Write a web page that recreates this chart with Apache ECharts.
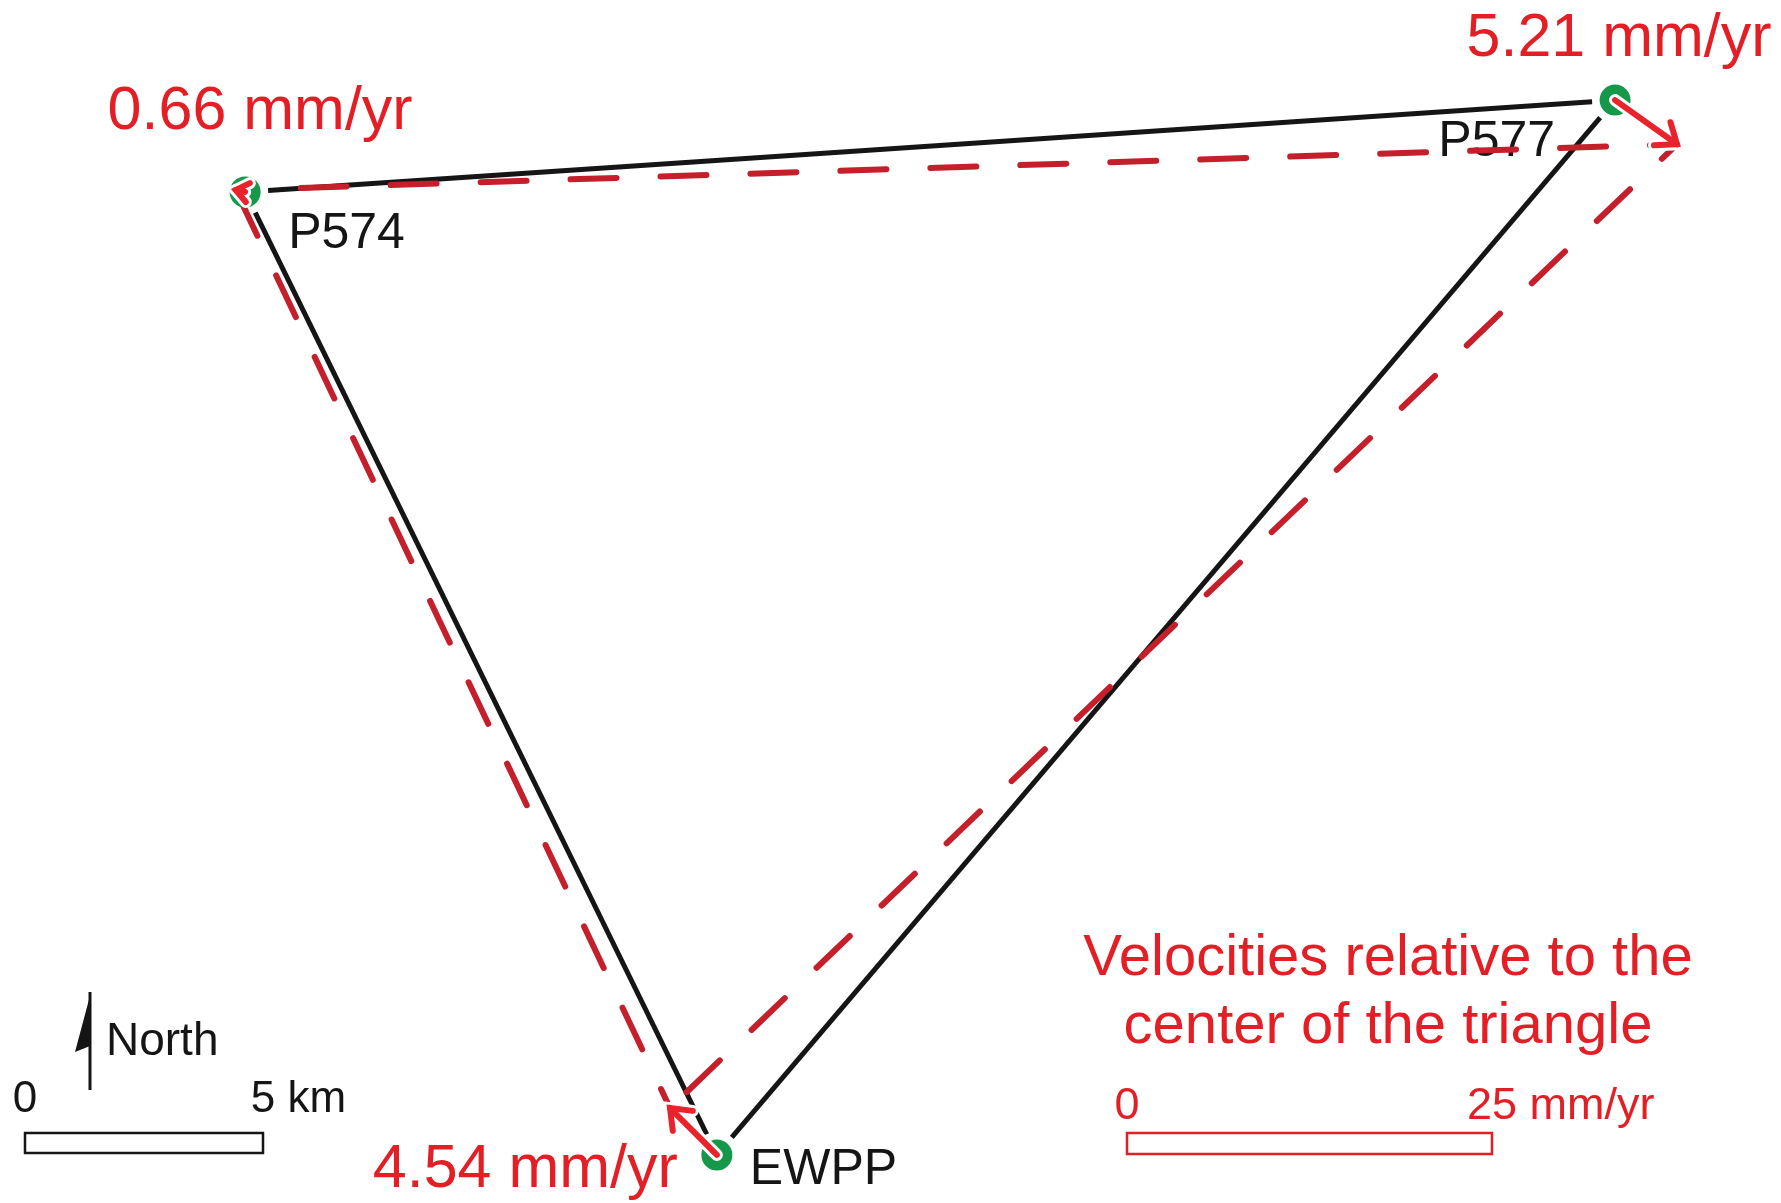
<!DOCTYPE html>
<html><head><meta charset="utf-8">
<script src="https://cdn.jsdelivr.net/npm/echarts@6/dist/echarts.min.js"></script>
<style>html,body{margin:0;padding:0;background:#fff}#c{width:1781px;height:1203px}</style>
</head><body><div id="c"></div>
<script>
// ---------------- data ----------------
const stationNames   = ['P574', 'P577', 'EWPP'];
const stationEastKm  = [5.15, 33.93, 15.06];
const stationNorthKm = [21.24, 23.17, 1.01];
const speedMmYr      = [0.66, 5.21, 4.54];
const azimuthDeg     = [282, 125.5, 315];
const speedLabels    = ['0.66 mm/yr', '5.21 mm/yr', '4.54 mm/yr'];
const distanceScaleKm = 5;
const distanceScaleUnit = 'km';
const velocityScaleMmYr = 25;
const velocityScaleUnit = 'mm/yr';
const noteLines = ['Velocities relative to the', 'center of the triangle'];
const northLabel = 'North';

// ---------------- layout / style ----------------
const PX_PER_KM = 47.6;
const KM_PER_MMYR = 14.6 / PX_PER_KM;      // vector exaggeration on the map
const MAP_W = 1781 / PX_PER_KM, MAP_H = 1203 / PX_PER_KM;
const FONT = '"Liberation Sans", Arial, Helvetica, sans-serif';
const RED_TXT = '#e31e25', RED_DASH = '#c41f2b', RED_ARROW = '#e8232b', GREEN = '#16984a', BLACK = '#151515';
const nameLayout  = [{dx: 43, dy: 60, align: 'left'}, {dx: -60, dy: 59, align: 'right'}, {dx: 33, dy: 33, align: 'left'}];
const speedLayout = [{dx: 15, dy: -59, align: 'center'}, {dx: 4, dy: -40, align: 'center'}, {dx: -39, dy: 36, align: 'right'}];
const DIST_BAR = [25 / PX_PER_KM, (1203 - 1153) / PX_PER_KM];
const VEL_BAR  = [1127 / PX_PER_KM, (1203 - 1154) / PX_PER_KM];
const NORTH_BASE = [90 / PX_PER_KM, (1203 - 1090) / PX_PER_KM];

// ---------------- derived tables ----------------
const rad = d => d * Math.PI / 180;
const tipE = stationEastKm.map((e, i) => e + speedMmYr[i] * Math.sin(rad(azimuthDeg[i])) * KM_PER_MMYR);
const tipN = stationNorthKm.map((n, i) => n + speedMmYr[i] * Math.cos(rad(azimuthDeg[i])) * KM_PER_MMYR);
const nxt = i => (i + 1) % stationNames.length;
const edgeData  = stationNames.map((_, i) => [stationEastKm[i], stationNorthKm[i], stationEastKm[nxt(i)], stationNorthKm[nxt(i)], i]);
const defData   = stationNames.map((_, i) => [tipE[i], tipN[i], tipE[nxt(i)], tipN[nxt(i)], i]);
const arrowData = stationNames.map((_, i) => [stationEastKm[i], stationNorthKm[i], tipE[i], tipN[i], i]);
const stData    = stationNames.map((_, i) => [stationEastKm[i], stationNorthKm[i], i]);

function txt(str, x, baseline, size, color, align) {
  return {type: 'text', style: {text: str, x: x, y: baseline - 0.347 * size,
    font: size + 'px ' + FONT, fill: color, align: align || 'left', verticalAlign: 'middle'}};
}

const chart = echarts.init(document.getElementById('c'), null, {renderer: 'canvas'});
chart.setOption({
  animation: false,
  backgroundColor: '#ffffff',
  grid: {left: 0, right: 0, top: 0, bottom: 0},
  xAxis: {type: 'value', min: 0, max: MAP_W, show: false},
  yAxis: {type: 'value', min: 0, max: MAP_H, show: false},
  series: [
    { // black triangle between stations
      type: 'custom', z: 1, clip: false, silent: true, data: edgeData,
      renderItem(params, api) {
        const p = api.coord([api.value(0), api.value(1)]);
        const q = api.coord([api.value(2), api.value(3)]);
        const dx = q[0] - p[0], dy = q[1] - p[1], L = Math.hypot(dx, dy);
        const ux = dx / L, uy = dy / L, t = 23;
        return {type: 'line', shape: {x1: p[0] + ux * t, y1: p[1] + uy * t, x2: q[0] - ux * t, y2: q[1] - uy * t},
          style: {stroke: BLACK, lineWidth: 5}};
      }
    },
    { // station names
      type: 'custom', z: 2, clip: false, silent: true, data: stData,
      renderItem(params, api) {
        const i = api.value(2), p = api.coord([api.value(0), api.value(1)]), L = nameLayout[i];
        return txt(stationNames[i], p[0] + L.dx, p[1] + L.dy, 50, BLACK, L.align);
      }
    },
    { // deformed triangle (dashed)
      type: 'custom', z: 3, clip: false, silent: true, data: defData,
      renderItem(params, api) {
        const p = api.coord([api.value(0), api.value(1)]);
        const q = api.coord([api.value(2), api.value(3)]);
        return {type: 'line', shape: {x1: p[0], y1: p[1], x2: q[0], y2: q[1]},
          style: {stroke: RED_DASH, lineWidth: 6, lineDash: [46, 44], lineDashOffset: 25, lineCap: 'round'}};
      }
    },
    { // stations
      type: 'scatter', z: 4, silent: true, data: stData, symbol: 'circle', symbolSize: 31,
      itemStyle: {color: GREEN, opacity: 1}
    },
    { // velocity arrows
      type: 'custom', z: 5, clip: false, silent: true, data: arrowData,
      renderItem(params, api) {
        const p = api.coord([api.value(0), api.value(1)]);
        const q = api.coord([api.value(2), api.value(3)]);
        const dx = q[0] - p[0], dy = q[1] - p[1], L = Math.hypot(dx, dy);
        const ux = dx / L, uy = dy / L, a = rad(38), w = Math.min(23, L * 0.9 + 7);
        const wing = s => [q[0] - w * (ux * Math.cos(a) - s * uy * Math.sin(a)), q[1] - w * (uy * Math.cos(a) + s * ux * Math.sin(a))];
        const head = [wing(1), q, wing(-1)];
        const kids = [];
        [['#ffffff', 12], [RED_ARROW, 6]].forEach(([c, lw]) => {
          kids.push({type: 'line', shape: {x1: p[0], y1: p[1], x2: q[0], y2: q[1]}, style: {stroke: c, lineWidth: lw, lineCap: 'round'}});
          kids.push({type: 'polyline', shape: {points: head}, style: {stroke: c, lineWidth: lw, fill: 'none', lineCap: 'round', lineJoin: 'miter'}});
        });
        return {type: 'group', children: kids};
      }
    },
    { // speed labels
      type: 'custom', z: 6, clip: false, silent: true, data: stData,
      renderItem(params, api) {
        const i = api.value(2), p = api.coord([api.value(0), api.value(1)]), L = speedLayout[i];
        return txt(speedLabels[i], p[0] + L.dx, p[1] + L.dy, 61, RED_TXT, L.align);
      }
    },
    { // map furniture: scale bars, north arrow, note
      type: 'custom', z: 6, clip: false, silent: true, data: [[0, 0]],
      renderItem(params, api) {
        const kids = [];
        // distance scale
        const b0 = api.coord(DIST_BAR), b1 = api.coord([DIST_BAR[0] + distanceScaleKm, DIST_BAR[1]]);
        kids.push({type: 'rect', shape: {x: b0[0], y: b0[1] - 20, width: b1[0] - b0[0], height: 20},
          style: {fill: '#fff', stroke: BLACK, lineWidth: 2.5}});
        const fs1 = 44;
        kids.push(txt('0', b0[0], b0[1] - 38, fs1, BLACK, 'center'));
        const dw = 0.556 * fs1 * String(distanceScaleKm).length;
        kids.push(txt(distanceScaleKm + ' ' + distanceScaleUnit, b1[0] - dw / 2, b0[1] - 38, fs1, BLACK, 'left'));
        // north arrow
        const nb = api.coord(NORTH_BASE), top = nb[1] - 98;
        kids.push({type: 'line', shape: {x1: nb[0], y1: nb[1], x2: nb[0], y2: top}, style: {stroke: BLACK, lineWidth: 3}});
        kids.push({type: 'polygon', shape: {points: [[nb[0] + 1, top], [nb[0] - 15, top + 60], [nb[0], top + 54]]}, style: {fill: BLACK}});
        kids.push(txt(northLabel, nb[0] + 16, nb[1] - 32, 46, BLACK, 'left'));
        // velocity scale
        const v0 = api.coord(VEL_BAR), v1 = api.coord([VEL_BAR[0] + velocityScaleMmYr * KM_PER_MMYR, VEL_BAR[1]]);
        kids.push({type: 'rect', shape: {x: v0[0], y: v0[1] - 21, width: v1[0] - v0[0], height: 21},
          style: {fill: '#fff', stroke: RED_TXT, lineWidth: 2.5}});
        const fs2 = 45;
        kids.push(txt('0', v0[0], v0[1] - 32, fs2, RED_TXT, 'center'));
        const vw = 0.556 * fs2 * String(velocityScaleMmYr).length;
        kids.push(txt(velocityScaleMmYr + ' ' + velocityScaleUnit, v1[0] - vw / 2, v0[1] - 32, fs2, RED_TXT, 'left'));
        // note
        kids.push(txt(noteLines[0], v0[0] + 261, v0[1] - 175, 58, RED_TXT, 'center'));
        kids.push(txt(noteLines[1], v0[0] + 261, v0[1] - 107, 58, RED_TXT, 'center'));
        return {type: 'group', children: kids};
      }
    }
  ]
});
</script>
</body></html>
